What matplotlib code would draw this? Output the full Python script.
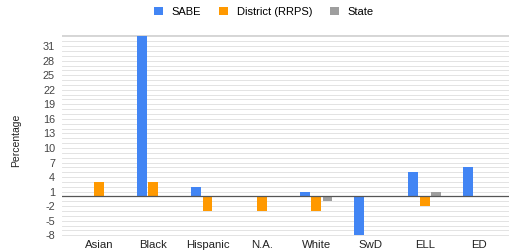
import numpy as np
import matplotlib
matplotlib.use("Agg")
import matplotlib.pyplot as plt

plt.rcParams['font.family'] = ['Liberation Sans', 'DejaVu Sans']

# data
groups = ["Asian", "Black", "Hispanic", "N.A.", "White", "SwD", "ELL", "ED"]
sabe = [np.nan, 33, 2, np.nan, 1, -8, 5, 6]
district = [3, 3, -3, -3, -3, np.nan, -2, np.nan]
state = [np.nan, np.nan, np.nan, np.nan, -1, np.nan, 1, np.nan]
series_names = ["SABE", "District (RRPS)", "State"]
colors = ["#4285f4", "#ff9900", "#9e9e9e"]
yticks = list(range(-8, 32, 3))

fig = plt.figure(figsize=(5.1, 2.5), dpi=100)
ax = fig.add_axes([62/510, 1 - 236/250, 448/510, (236 - 35)/250])

x = np.arange(len(groups))
w = 0.18
offs = [-0.21, 0, 0.21]
for vals, off, c, name in zip([sabe, district, state], offs, colors, series_names):
    ax.bar(x + off, vals, width=w, color=c, label=name, zorder=3)

# gridlines every unit, labels every 3
for v in range(-8, 34):
    ax.axhline(v, color="#e3e3e3", lw=0.7, zorder=1)
ax.axhline(33.2, color="#d6d6d6", lw=2, zorder=1)
ax.axhline(0, color="#555555", lw=0.9, zorder=4)

ax.set_ylim(-8.15, 33.3)
ax.set_xlim(-0.68, 7.57)
ax.set_yticks(yticks)
ax.set_yticklabels([str(t) for t in yticks], fontsize=7.8, color="#444444")
ax.set_xticks(x)
ax.set_xticklabels(groups, fontsize=8.2, color="#222222")
ax.tick_params(length=0, pad=3)
ax.tick_params(axis='y', pad=5)
for s in ax.spines.values():
    s.set_visible(False)

fig.text(16/510, 1 - 140/250, "Percentage", rotation=90, fontsize=7.5,
         color="#222222", ha="center", va="center")

fig.legend(loc="center", bbox_to_anchor=(264/510, 1 - 12/250), ncol=3,
           frameon=False, fontsize=8, handlelength=0.8, handleheight=0.8,
           columnspacing=1.6, handletextpad=0.8)

fig.savefig("out.png", dpi=100)
